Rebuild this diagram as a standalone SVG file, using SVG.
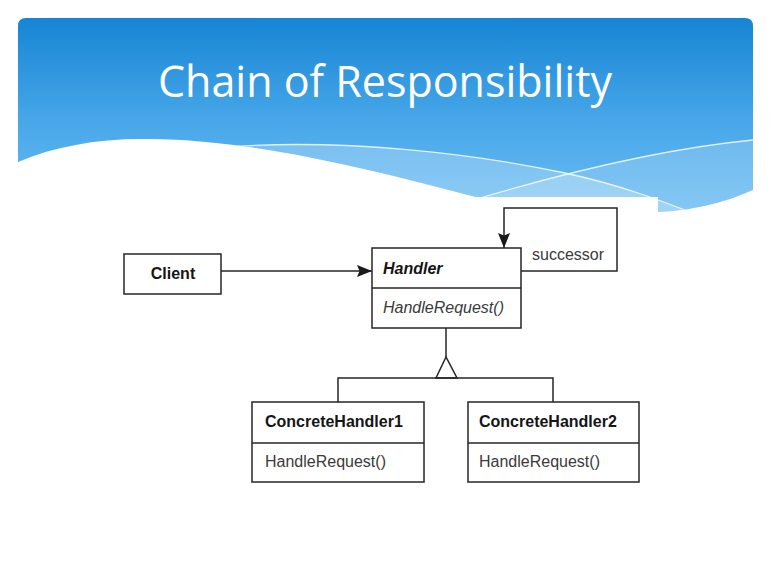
<svg xmlns="http://www.w3.org/2000/svg" width="770" height="576" viewBox="0 0 770 576">
  <defs>
    <linearGradient id="sky" x1="0" y1="0" x2="0" y2="1" gradientUnits="objectBoundingBox">
      <stop offset="0" stop-color="#1685d4"/>
      <stop offset="0.55" stop-color="#4ba9ea"/>
      <stop offset="1" stop-color="#6cbdf3"/>
    </linearGradient>
    <clipPath id="headerClip">
      <path d="M18,26 Q18,18 26,18 H745 Q753,18 753,26 V190 C 730,200 700,210 658,212 C 600,212 540,210 480,198 C 380,172 260,140 150,139 C 100,138 55,146 18,162 Z"/>
    </clipPath>
    <marker id="solidArrow" viewBox="0 0 15 12" refX="15" refY="6" markerWidth="15" markerHeight="12" markerUnits="userSpaceOnUse" orient="auto">
      <path d="M0,0 L15,6 L0,12 L2.5,6 Z" fill="#1a1a1a"/>
    </marker>
    <style>
      .box { fill: #ffffff; stroke: #262626; stroke-width: 1.5; }
      .wire { fill: none; stroke: #262626; stroke-width: 1.5; }
      .name { font-family: "Liberation Sans", Arial, sans-serif; font-size: 16px; font-weight: bold; fill: #151515; }
      .op { font-family: "Liberation Sans", Arial, sans-serif; font-size: 16px; fill: #3a3a3a; }
      .abstract { font-style: italic; }
    </style>
  </defs>

  <rect x="0" y="0" width="770" height="576" fill="#ffffff"/>

  <!-- title banner with wave -->
  <g id="banner">
    <g clip-path="url(#headerClip)">
      <rect x="18" y="18" width="735" height="200" fill="url(#sky)"/>
      <path d="M225,147 C 350,138 480,155 565,173 C 620,185 660,200 700,216 L 225,216 Z" fill="#ffffff" opacity="0.24"/>
      <path d="M470,201 C 540,180 650,150 753,140 L 753,216 L 470,216 Z" fill="#ffffff" opacity="0.18"/>
      <path d="M225,147 C 350,138 480,155 565,173 C 620,185 660,200 700,216" fill="none" stroke="#ffffff" stroke-opacity="0.8" stroke-width="1.3"/>
      <path d="M470,201 C 540,180 650,150 753,140" fill="none" stroke="#ffffff" stroke-opacity="0.8" stroke-width="1.3"/>
    </g>
    <text x="385" y="97" text-anchor="middle" font-family="'Open Sans', 'Noto Sans', sans-serif" font-size="43" fill="#ffffff" textLength="454" lengthAdjust="spacingAndGlyphs">Chain of Responsibility</text>
  </g>

  <!-- diagram canvas -->
  <rect x="90" y="197" width="568" height="310" fill="#ffffff"/>

  <!-- connectors -->
  <g id="connectors">
    <line class="wire" x1="221" y1="271" x2="372" y2="271" marker-end="url(#solidArrow)"/>
    <polyline class="wire" points="521,271 617,271 617,208 504,208 504,248" marker-end="url(#solidArrow)"/>
    <text class="op" x="532" y="260">successor</text>
    <line class="wire" x1="446" y1="328" x2="446" y2="357"/>
    <polygon class="wire" points="446,357 436,378 457,378" fill="#ffffff"/>
    <polyline class="wire" points="338,402 338,378 553,378 553,402"/>
  </g>

  <g id="client">
    <rect class="box" x="124" y="254" width="97" height="40"/>
    <text class="name" x="173" y="279" text-anchor="middle">Client</text>
  </g>

  <g id="handler">
    <rect class="box" x="372" y="248" width="149" height="80"/>
    <line class="wire" x1="372" y1="288" x2="521" y2="288"/>
    <text class="name abstract" x="383" y="274">Handler</text>
    <text class="op abstract" x="383" y="313">HandleRequest()</text>
  </g>

  <g id="concreteHandler1">
    <rect class="box" x="252" y="402" width="172" height="80"/>
    <line class="wire" x1="252" y1="443" x2="424" y2="443"/>
    <text class="name" x="265" y="427">ConcreteHandler1</text>
    <text class="op" x="265" y="467">HandleRequest()</text>
  </g>

  <g id="concreteHandler2">
    <rect class="box" x="468" y="402" width="171" height="80"/>
    <line class="wire" x1="468" y1="443" x2="639" y2="443"/>
    <text class="name" x="479" y="427">ConcreteHandler2</text>
    <text class="op" x="479" y="467">HandleRequest()</text>
  </g>
</svg>
